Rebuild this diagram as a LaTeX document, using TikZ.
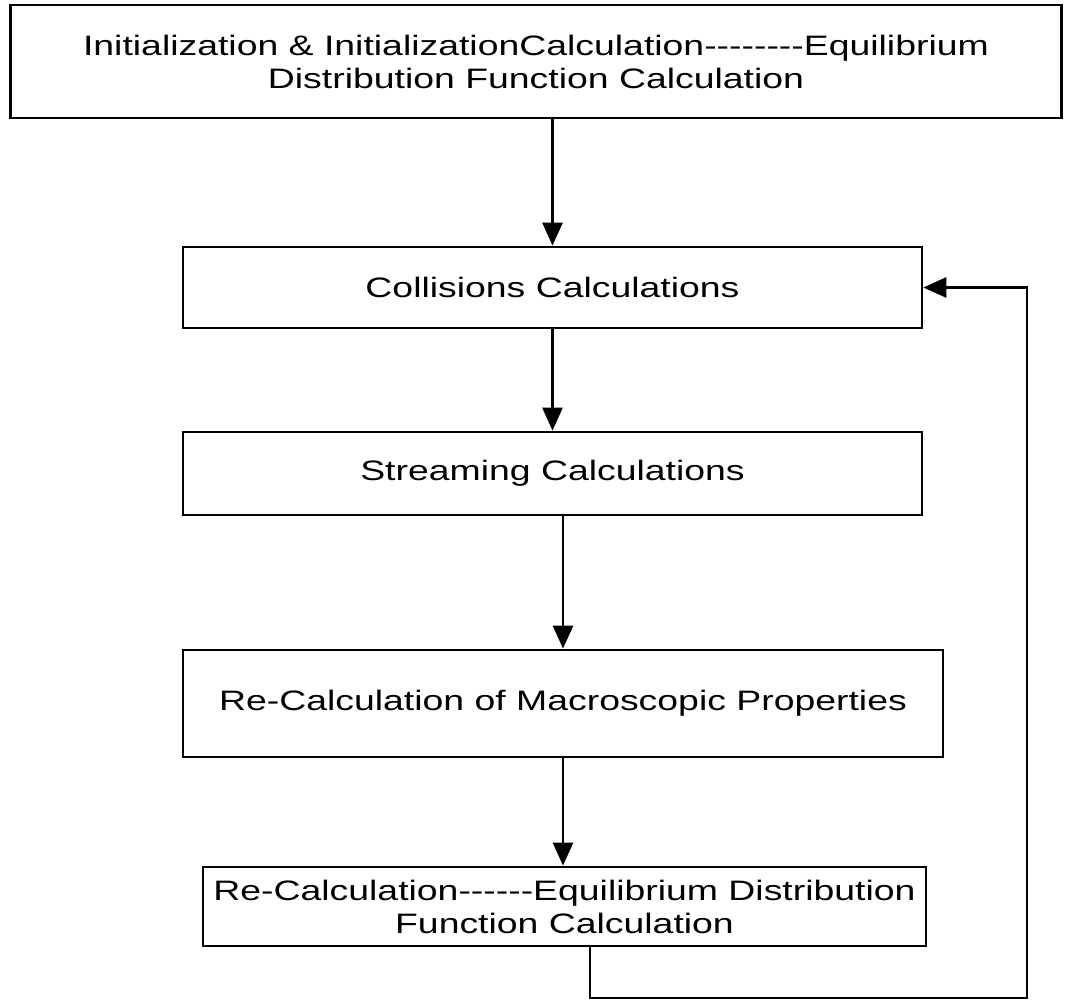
\documentclass[tikz,border=0pt]{standalone}
\usepackage{fontspec}
\setmainfont{Liberation Sans}[FakeStretch=1.33, Ligatures=TeXOff]
\usepackage{tikz}
\usetikzlibrary{arrows.meta,positioning}
\tikzstyle{block} = [rectangle, draw, line width=1.6pt, align=center, inner sep=0pt, font=\fontsize{16}{18.8}\selectfont]
\tikzstyle{line} = [draw, line width=1.6pt, -{Triangle[length=0.46cm,width=0.4cm]}]

\begin{document}
\begin{tikzpicture}[x=0.02cm, y=-0.02cm]
    \useasboundingbox (0,0) rectangle (1079,1000);
    % Blocks
    \node [block, minimum width=21.04cm, minimum height=2.26cm] (init) at (536,61.5)
    {Initialization \& InitializationCalculation--------Equilibrium\\Distribution Function Calculation};
    \node [block, minimum width=14.78cm, minimum height=1.62cm] (coll) at (552.5,287.5)
    {Collisions Calculations};
    \node [block, minimum width=14.78cm, minimum height=1.66cm] (stream) at (552.5,473.5)
    {Streaming Calculations};
    \node [block, minimum width=15.2cm, minimum height=2.14cm] (macro) at (563,703.5)
    {Re-Calculation of Macroscopic Properties};
    \node [block, minimum width=14.46cm, minimum height=1.58cm] (equil) at (564.5,906.5)
    {Re-Calculation------Equilibrium Distribution\\Function Calculation};
    \coordinate (back) at (1027,998);
    % Lines
    \path [line] (init.south -| coll.north) -- (coll.north);
    \path [line] (coll.south) -- (stream.north);
    \path [line] (stream.south -| macro.north) -- (macro.north);
    \path [line] (macro.south) -- (macro.south |- equil.north);
    \path [line] ([xshift=0.51cm]equil.south) |- (back) |- (coll.east);
\end{tikzpicture}
\end{document}
